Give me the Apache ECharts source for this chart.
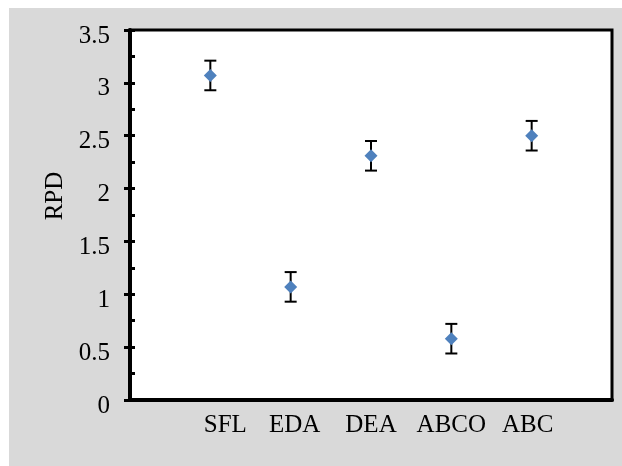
<!DOCTYPE html>
<html><head><meta charset="utf-8">
<script src="https://cdn.jsdelivr.net/npm/echarts@6/dist/echarts.min.js"></script>
<style>
html,body{margin:0;padding:0;background:#ffffff;}
#c{position:absolute;left:9px;top:8px;width:613px;height:458px;background:#d9d9d9;}
</style>
</head><body><div id="c"></div>
<script>
// ---- data ----
const categories = ['SFL', 'EDA', 'DEA', 'ABCO', 'ABC'];
const rpd = [3.07, 1.07, 2.31, 0.58, 2.50];
const rpdError = [0.14, 0.14, 0.14, 0.14, 0.14];
const yTickLabels = ['0', '0.5', '1', '1.5', '2', '2.5', '3', '3.5'];
const yAxisTitle = 'RPD';

// ---- build ----
const xCats = [''].concat(categories, ['']);
const pointData = categories.map((c, i) => [c, rpd[i]]);
const errData = categories.map((c, i) => [c, rpd[i] - rpdError[i], rpd[i] + rpdError[i]]);
const FONT = 'Liberation Serif';

const chart = echarts.init(document.getElementById('c'), null, {renderer: 'canvas'});
const labelShift = {SFL: 30, EDA: 8, DEA: 0, ABCO: 0, ABC: -8};
chart.setOption({
  animation: false,
  backgroundColor: 'transparent',
  grid: {left: 121, right: 10, top: 22, bottom: 66, show: true,
         backgroundColor: '#ffffff', borderColor: '#000000', borderWidth: 3, containLabel: false},
  xAxis: {
    type: 'category', data: xCats, boundaryGap: false,
    axisLine: {show: true, lineStyle: {color: '#000', width: 4}},
    axisTick: {show: false},
    splitLine: {show: false},
    axisLabel: {
      margin: 13, color: '#000', fontFamily: FONT, fontSize: 25,
      interval: 0,
      formatter: v => v === '' ? '' : '{s' + (labelShift[v] >= 0 ? 'p' : 'n') + Math.abs(labelShift[v]) + '|' + v + '}',
      rich: {
        sp30: {padding: [0, 0, 0, 30], fontFamily: FONT, fontSize: 25, color: '#000'},
        sp8: {padding: [0, 0, 0, 8], fontFamily: FONT, fontSize: 25, color: '#000'},
        sp0: {fontFamily: FONT, fontSize: 25, color: '#000'},
        sn8: {padding: [0, 8, 0, 0], fontFamily: FONT, fontSize: 25, color: '#000'}
      }
    }
  },
  yAxis: [{
    type: 'value', min: 0, max: 3.5, interval: 0.5,
    name: yAxisTitle, nameLocation: 'middle', nameGap: 62, nameRotate: 90,
    nameTextStyle: {color: '#000', fontFamily: FONT, fontSize: 25, padding: [0, 0, 0, 38]},
    axisLine: {show: true, lineStyle: {color: '#000', width: 4}},
    axisTick: {show: true, inside: false, length: 6, lineStyle: {color: '#000', width: 3}},
    splitLine: {show: false},
    axisLabel: {margin: 20, color: '#000', fontFamily: FONT, fontSize: 25,
                verticalAlign: 'top', lineHeight: 12,
                formatter: v => yTickLabels[Math.round(v / 0.5)]}
  }, {
    type: 'value', min: 0, max: 3.5, interval: 0.5, position: 'left',
    axisLine: {show: false},
    axisTick: {show: true, inside: true, length: 5, lineStyle: {color: '#000', width: 3}},
    minorTick: {show: true, splitNumber: 2, length: 5, lineStyle: {color: '#000', width: 3}},
    axisLabel: {show: false},
    splitLine: {show: false}
  }],
  series: [{
    type: 'custom', z: 2,
    data: errData,
    encode: {x: 0, y: [1, 2]},
    renderItem: function (params, api) {
      const lo = api.coord([api.value(0), api.value(1)]);
      const hi = api.coord([api.value(0), api.value(2)]);
      const w = 6;
      const st = {stroke: '#000', lineWidth: 2, fill: null};
      return {type: 'group', children: [
        {type: 'line', shape: {x1: lo[0], y1: lo[1], x2: hi[0], y2: hi[1]}, style: st},
        {type: 'line', shape: {x1: lo[0] - w, y1: lo[1], x2: lo[0] + w, y2: lo[1]}, style: st},
        {type: 'line', shape: {x1: hi[0] - w, y1: hi[1], x2: hi[0] + w, y2: hi[1]}, style: st}
      ]};
    }
  }, {
    type: 'scatter', z: 3,
    data: pointData,
    symbol: 'diamond', symbolSize: 13,
    itemStyle: {color: '#4f81bd', opacity: 1}
  }]
});
</script>
</body></html>
